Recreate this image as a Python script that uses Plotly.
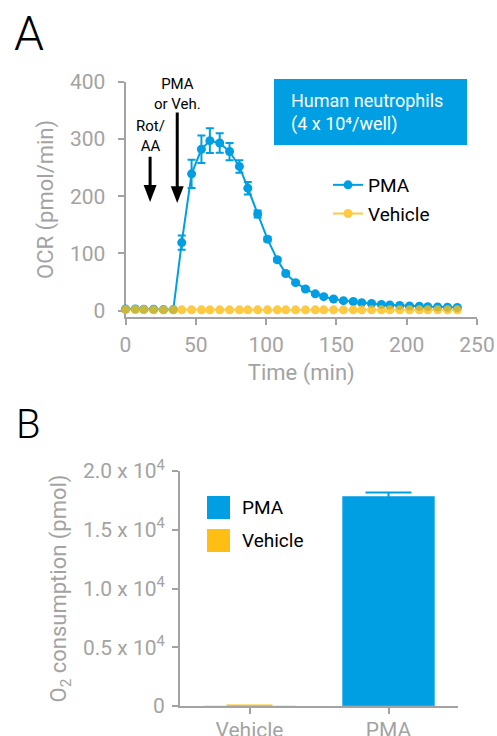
import plotly.graph_objects as go

W, H = 497, 736

# ---------------- data ----------------
time_min = [0, 7, 13, 20, 27, 34, 40, 47, 54, 60, 67, 74, 81, 87, 94, 101, 108, 114,
            121, 128, 135, 141, 148, 155, 162, 168, 175, 182, 188, 195, 202, 209, 215, 222, 229, 236]
pma_ocr = [3, 3, 2.5, 2.5, 2, 2, 119, 239, 282, 297, 293, 278, 252, 214, 169, 125, 89, 65,
           49, 38, 29.5, 24.5, 20.5, 17.5, 16, 14, 12.5, 11, 10, 9, 8.3, 7.7, 7, 6.5, 6, 5.5]
pma_err = [1, 1, 1, 1, 1, 1, 12.5, 24.5, 24, 21.5, 17, 15, 11, 11, 6, 4, 3, 3,
           2, 2, 2, 2, 2, 1.5, 1.5, 1.5, 1.5, 1, 1, 1, 1, 1, 1, 1, 1, 1]
veh_ocr = [2, 2, 2, 1.5, 1.5, 1.5, 1.5, 1.5, 1.5, 1.5, 1.5, 1.5, 1.5, 1.5, 1.5, 1.5, 1.5, 1.5,
           1.5, 1.5, 1.5, 1.5, 1.5, 1.5, 1.5, 1.5, 1.5, 1.5, 1.5, 1.5, 1.5, 1.5, 1.5, 1.5, 1.5, 1.5]

bar_categories = ["Vehicle", "PMA"]
bar_values = [20, 17830]
bar_errors = [20, 340]

a_xticks = [0, 50, 100, 150, 200, 250]
a_yticks = [0, 100, 200, 300, 400]
b_yticks = [0, 5000, 10000, 15000, 20000]
b_yticklabels = ["0", "0.5 x 10<sup>4</sup>", "1.0 x 10<sup>4</sup>",
                 "1.5 x 10<sup>4</sup>", "2.0 x 10<sup>4</sup>"]

# ---------------- style ----------------
BLUE = "#009FE3"
YELLOW = "#FFBE14"
GRAY = "#A3A3A3"
FONT = "Roboto"
TICK_SIZE = 21
TITLE_SIZE = 22


def px(x):
    return x / W


def py(y):
    return 1 - y / H


fig = go.Figure()

fig.add_trace(go.Scatter(
    x=time_min, y=pma_ocr, name="PMA", mode="lines+markers",
    line=dict(color=BLUE, width=2), marker=dict(color=BLUE, size=9),
    error_y=dict(type="data", array=pma_err, color=BLUE, thickness=2, width=4),
    cliponaxis=False, xaxis="x", yaxis="y", legendgroup="a", legend="legend"))
fig.add_trace(go.Scatter(
    x=time_min, y=veh_ocr, name="Vehicle", mode="lines+markers",
    line=dict(color=YELLOW, width=2), marker=dict(color=YELLOW, size=9),
    opacity=0.8, cliponaxis=False, xaxis="x", yaxis="y", legendgroup="b", legend="legend"))

fig.add_trace(go.Bar(
    x=[bar_categories[0]], y=[bar_values[0]], marker=dict(color=YELLOW),
    error_y=dict(type="data", array=[bar_errors[0]], color=YELLOW, thickness=2, width=23),
    width=0.66, xaxis="x2", yaxis="y2", showlegend=False, cliponaxis=False))
fig.add_trace(go.Bar(
    x=[bar_categories[1]], y=[bar_values[1]],
    marker=dict(color=BLUE, line=dict(color="#3DB5EA", width=1)),
    error_y=dict(type="data", array=[bar_errors[1]], color=BLUE, thickness=2, width=23),
    width=0.66, xaxis="x2", yaxis="y2", showlegend=False, cliponaxis=False))

axis_common = dict(showline=True, linecolor=GRAY, linewidth=2, ticks="outside", ticklen=6,
                   tickwidth=2, tickcolor=GRAY, showgrid=False, zeroline=False,
                   tickfont=dict(family=FONT, size=TICK_SIZE, color=GRAY), automargin=False,
                   layer="below traces")

fig.update_layout(
    width=W, height=H, margin=dict(l=0, r=0, t=0, b=0),
    paper_bgcolor="white", plot_bgcolor="white", barmode="overlay",
    xaxis=dict(domain=[px(125.5), px(477)], range=[0, 250], tickvals=a_xticks,
               anchor="y", ticklabelstandoff=2,
               title=dict(text="Time (min)", font=dict(family=FONT, size=TITLE_SIZE, color=GRAY), standoff=8),
               **axis_common),
    yaxis=dict(domain=[py(317), py(81.7)], range=[-11, 400], tickvals=a_yticks,
               anchor="x", ticklabelstandoff=8,
               title=dict(text="OCR (pmol/min)", font=dict(family=FONT, size=TITLE_SIZE, color=GRAY), standoff=10),
               **axis_common),
    xaxis2=dict(domain=[px(180), px(458)], range=[-0.5, 1.5], anchor="y2",
                ticklabelstandoff=-2, **axis_common),
    yaxis2=dict(domain=[py(706), py(471)], range=[0, 20000], tickvals=b_yticks,
                ticktext=b_yticklabels, anchor="x2", ticklabelstandoff=3,
                title=dict(text="O<sub>2</sub> consumption (pmol)",
                           font=dict(family=FONT, size=TITLE_SIZE, color=GRAY), standoff=10),
                **axis_common),
    legend=dict(x=px(328), y=py(166), xanchor="left", yanchor="top",
                font=dict(family=FONT, size=19, color="black"), bgcolor="rgba(0,0,0,0)",
                traceorder="grouped", tracegroupgap=1, itemwidth=30),
    showlegend=True,
)

# info box
fig.add_shape(type="rect", xref="paper", yref="paper", x0=px(274), x1=px(467),
              y0=py(145), y1=py(79), fillcolor=BLUE, line=dict(width=0), layer="above")
fig.add_annotation(xref="paper", yref="paper", x=px(289), y=py(112), xanchor="left",
                   yanchor="middle", align="left", showarrow=False,
                   text="Human neutrophils<br>(4 x 10⁴/well)",
                   font=dict(family=FONT, size=18, color="white"))

# arrows (x in minutes, tail y, tip y in OCR units)
arrows = [(17.5, 269, 190), (36.8, 346, 188)]
head_half_w = 4.6   # minutes
head_len = 29.5     # OCR units
for ax_, y_tail, y_tip in arrows:
    fig.add_shape(type="line", xref="x", yref="y", x0=ax_, x1=ax_, y0=y_tail, y1=y_tip + head_len - 2,
                  line=dict(color="black", width=3))
    fig.add_shape(type="path", xref="x", yref="y",
                  path=f"M {ax_ - head_half_w} {y_tip + head_len} L {ax_ + head_half_w} {y_tip + head_len} L {ax_} {y_tip} Z",
                  fillcolor="black", line=dict(width=0))

fig.add_annotation(xref="x", yref="y", x=17.5, y=(310.7 - 136) / 0.5725, text="Rot/<br>AA",
                   showarrow=False, font=dict(family=FONT, size=15, color="black"),
                   xanchor="center", yanchor="middle")
fig.add_annotation(xref="x", yref="y", x=36.8, y=(310.7 - 94) / 0.5725, text="PMA<br>or Veh.",
                   showarrow=False, font=dict(family=FONT, size=15, color="black"),
                   xanchor="center", yanchor="middle")

# B legend
b_legend = [("PMA", BLUE, 496), ("Vehicle", YELLOW, 529)]
for label, col, top in b_legend:
    fig.add_shape(type="rect", xref="paper", yref="paper", x0=px(207), x1=px(230),
                  y0=py(top + 23), y1=py(top), fillcolor=col, line=dict(width=0))
    fig.add_annotation(xref="paper", yref="paper", x=px(240), y=py(top + 11.5), xanchor="left",
                       yanchor="middle", text=label, showarrow=False,
                       font=dict(family=FONT, size=19, color="black"))

# panel letters
fig.add_annotation(xref="paper", yref="paper", x=px(12), y=py(33), xanchor="left", yanchor="middle",
                   text="A", showarrow=False, font=dict(family=FONT, size=48, color="black", weight=300))
fig.add_annotation(xref="paper", yref="paper", x=px(14), y=py(424), xanchor="left", yanchor="middle",
                   text="B", showarrow=False, font=dict(family=FONT, size=40, color="black", weight=300))

fig.write_html("out.html", config={"displayModeBar": False},
               post_script="document.body.style.margin='0';document.body.style.padding='0';")
